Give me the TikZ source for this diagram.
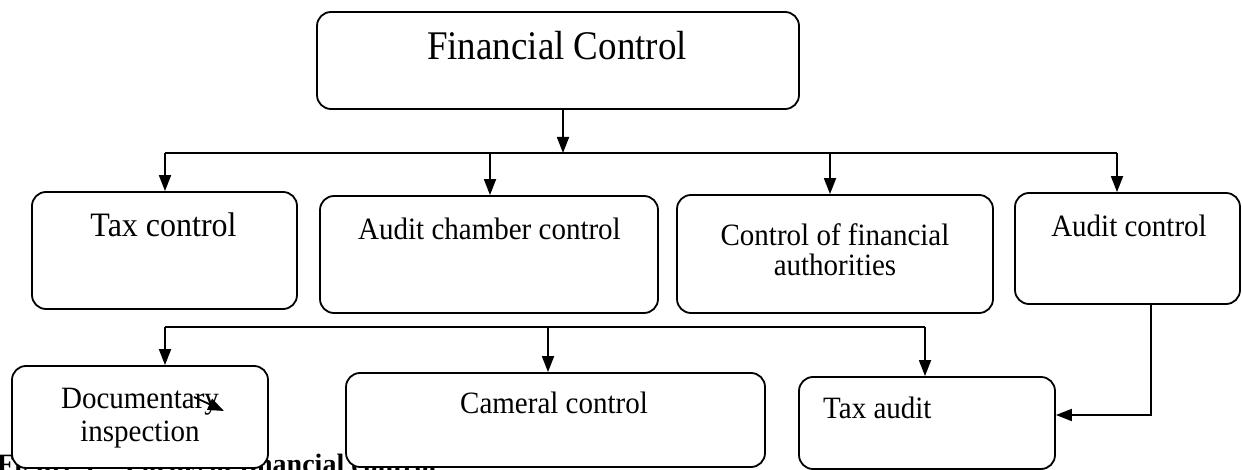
\documentclass[tikz,border=0pt]{standalone}
\usepackage{fontspec}
\setmainfont{Liberation Serif}
\usetikzlibrary{arrows.meta}
\newcommand{\vstr}[1]{\scalebox{1}[1.07]{#1}}
\begin{document}
\begin{tikzpicture}[x=1pt,y=-1pt,
  box/.style={draw, line width=1.8pt, rounded corners=14pt, fill=white, inner sep=0pt},
  lbl/.style={anchor=base, inner sep=0pt, font=\fontsize{29}{30}\selectfont},
  arr/.style={line width=1.8pt, -{Triangle[length=16pt,width=12pt]}},
  ln/.style={line width=1.8pt}]
\path[use as bounding box] (0,0) rectangle (1242,470);
\clip (0,0) rectangle (1242,470);
% partly hidden caption
\node[anchor=base west, inner sep=0pt, font=\bfseries\fontsize{28}{30}\selectfont] (cap) at (-3,473) {Figure 1 – Forms of financial control};
% boxes
\node[box, minimum width=482pt, minimum height=97pt] (fc) at (558,60.5) {};
\node[box, minimum width=265pt, minimum height=117pt] (tc) at (164.5,250.5) {};
\node[box, minimum width=338pt, minimum height=117pt] (ac) at (489,254.5) {};
\node[box, minimum width=316pt, minimum height=118pt] (cf) at (835,254) {};
\node[box, minimum width=225pt, minimum height=111pt] (au) at (1127.5,248.5) {};
\node[box, minimum width=256pt, minimum height=102pt] (di) at (140,417) {};
\node[box, minimum width=419pt, minimum height=94pt] (cc) at (555.5,420) {};
\node[box, minimum width=256pt, minimum height=92pt] (ta) at (927,423) {};
% texts
\node[lbl, font=\fontsize{37}{40}\selectfont] (fct) at (557,60) {\scalebox{1}[1.1]{Financial Control}};
\node[lbl, font=\fontsize{32}{34}\selectfont] (tct) at (163.5,237) {\vstr{Tax control}};
\node[lbl] (act) at (489.5,240) {\vstr{Audit chamber control}};
\node[lbl] (cft1) at (835,246) {\vstr{Control of financial}};
\node[lbl] (cft2) at (835,276) {\vstr{authorities}};
\node[lbl] (aut) at (1129,237) {\vstr{Audit control}};
\node[lbl] (dit1) at (140,408) {\vstr{Documentary}};
\node[lbl] (dit2) at (140,441) {\vstr{inspection}};
\node[lbl] (cct) at (554,413) {\vstr{Cameral control}};
\node[lbl, anchor=base west] (tat) at (823,418) {\vstr{Tax audit}};
% connectors, level 1
\coordinate (j0) at (563,153);
\draw[arr] ([xshift=5pt]fc.south) -- (j0);
\coordinate (h1a) at (165,153);
\coordinate (h1c) at (490,153);
\coordinate (h1d) at (830,153);
\coordinate (h1b) at (1117,153);
\draw[ln] (h1a) -- (h1b);
\draw[arr] (h1a) -- (h1a |- tc.north);
\draw[arr] (h1c) -- (h1c |- ac.north);
\draw[arr] (h1d) -- (h1d |- cf.north);
\draw[arr] (h1b) -- (h1b |- au.north);
% connectors, level 2
\coordinate (h2a) at (165,327);
\coordinate (h2b) at (548,327);
\coordinate (h2c) at (925,327);
\draw[ln] (h2a) -- (h2c);
\draw[arr] (h2a) -- (h2a |- di.north);
\draw[arr] (h2b) -- (h2b |- cc.north);
\draw[arr] (h2c) -- (h2c |- ta.north);
% audit control to tax audit
\coordinate (h3) at (1151,415);
\draw[arr] (h3 |- au.south) -- (h3) -- (h3 -| ta.east);
% stray arrow
\coordinate (s1) at (194,397);
\coordinate (s2) at (224,411);
\draw[arr] (s1) -- (s2);
\end{tikzpicture}
\end{document}
